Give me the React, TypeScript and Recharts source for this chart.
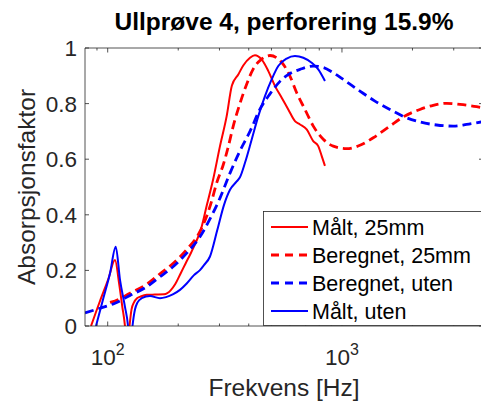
import { LineChart, Line, XAxis, YAxis, Legend } from "recharts";

// Målt, 25mm
const maalt25Hz = [84.9, 92.7, 100.7, 107.4, 112, 115.4, 118.5, 120.9, 123.9, 126.4, 129.5, 133.4, 138.3, 146.7, 159, 174, 186, 194, 205, 215, 226, 237.5, 249.5, 265, 282, 301.5, 322, 339, 361, 379, 405, 425, 454, 485, 518, 553, 590, 630, 662, 707, 754, 792, 819, 846];
const maalt25 = [0, 0.09, 0.17, 0.237, 0.15, 0.07, 0, -0.1, 0, 0.06, 0.085, 0.1, 0.106, 0.112, 0.113, 0.114, 0.129, 0.15, 0.19, 0.225, 0.261, 0.3, 0.345, 0.435, 0.528, 0.647, 0.755, 0.865, 0.905, 0.937, 0.965, 0.974, 0.959, 0.917, 0.863, 0.821, 0.779, 0.737, 0.725, 0.707, 0.665, 0.647, 0.612, 0.576];

// Beregnet, 25mm
const beregnet25Hz = [102.3, 107.4, 124.5, 146.7, 167.2, 190, 217.4, 247.7, 264.5, 277.9, 291.9, 311.4, 327.1, 343.7, 366.9, 391.9, 418.3, 454.3, 492.9, 526.4, 561.7, 599.8, 640.8, 695, 754.4, 832, 917.9, 1047, 1193, 1360, 1602, 1826, 2152, 2453, 2798, 3188, 3757, 4000];
const beregnet25 = [0.085, 0.09, 0.118, 0.15, 0.188, 0.225, 0.275, 0.34, 0.395, 0.45, 0.515, 0.58, 0.645, 0.72, 0.8, 0.87, 0.925, 0.96, 0.973, 0.965, 0.941, 0.899, 0.839, 0.779, 0.719, 0.672, 0.647, 0.638, 0.65, 0.677, 0.719, 0.752, 0.779, 0.794, 0.801, 0.797, 0.789, 0.785];

// Beregnet, uten
const beregnetUtenHz = [80, 92.7, 107.4, 124.5, 146.7, 167.2, 190, 217.4, 247.7, 273.3, 301.5, 332.7, 366.9, 404.9, 446.7, 492.9, 543.8, 599.8, 662, 754.4, 832, 917.9, 1012.7, 1193, 1383, 1602, 1889, 2152, 2536, 2985, 3406, 4000];
const beregnetUten = [0.047, 0.064, 0.082, 0.11, 0.141, 0.177, 0.213, 0.262, 0.321, 0.385, 0.46, 0.55, 0.63, 0.7, 0.78, 0.835, 0.88, 0.908, 0.923, 0.935, 0.93, 0.911, 0.887, 0.845, 0.809, 0.779, 0.749, 0.734, 0.723, 0.719, 0.725, 0.735];

// Målt, uten
const maaltUtenHz = [89.1, 95.8, 102.3, 108.2, 112.9, 118.5, 122.1, 124.5, 127.6, 130.8, 134.1, 139.7, 151.5, 167.2, 177.4, 190.5, 203.5, 217.4, 233.5, 247.7, 257.6, 273.3, 293.6, 313.5, 332.7, 355.3, 366.9, 385.5, 411.8, 439.4, 469.2, 501.1, 534.8, 580.8, 630.1, 683.8, 742.3, 792.3, 846.2];
const maaltUten = [0, 0.1, 0.19, 0.285, 0.165, 0.069, 0, -0.1, 0, 0.06, 0.085, 0.1, 0.108, 0.1, 0.104, 0.115, 0.13, 0.153, 0.183, 0.201, 0.219, 0.25, 0.345, 0.435, 0.49, 0.52, 0.535, 0.587, 0.671, 0.755, 0.827, 0.887, 0.935, 0.962, 0.971, 0.965, 0.947, 0.923, 0.881];

const xTicks = [90, 100, 200, 300, 400, 500, 600, 700, 800, 900, 1000, 2000, 3000];
const yTicks = [0, 0.2, 0.4, 0.6, 0.8, 1];

const toPoints = (hz: number[], vals: number[]) => hz.map((f, i) => ({ f, v: vals[i] }));

const series = [
  { name: "Målt, 25mm", data: toPoints(maalt25Hz, maalt25), color: "#ff0000", dashed: false },
  { name: "Beregnet, 25mm", data: toPoints(beregnet25Hz, beregnet25), color: "#ff0000", dashed: true },
  { name: "Beregnet, uten", data: toPoints(beregnetUtenHz, beregnetUten), color: "#0000ff", dashed: true },
  { name: "Målt, uten", data: toPoints(maaltUtenHz, maaltUten), color: "#0000ff", dashed: false },
];

const ink = "#262626";
const font = "'Liberation Sans', Arial, Helvetica, sans-serif";
const isMajor = (v: number) => v === 100 || v === 1000;

const BottomTick = (p: any) => {
  const v = p.payload.value;
  return (
    <g>
      <line x1={p.x} x2={p.x} y1={p.y} y2={p.y - (isMajor(v) ? 4.5 : 2.5)} stroke={ink} strokeWidth={0.8} />
      {isMajor(v) && (
        <text x={p.x} y={p.y + 39} textAnchor="middle" fontSize={22.5} fontFamily={font} fill={ink}>
          10<tspan dy={-10} fontSize={16}>{Math.round(Math.log10(v))}</tspan>
        </text>
      )}
    </g>
  );
};

const TopTick = (p: any) => {
  const v = p.payload.value;
  return <line x1={p.x} x2={p.x} y1={p.y} y2={p.y + (isMajor(v) ? 4.5 : 2.5)} stroke={ink} strokeWidth={0.8} />;
};

const LeftTick = (p: any) => (
  <g>
    <line x1={p.x} x2={p.x + 4} y1={p.y} y2={p.y} stroke={ink} strokeWidth={0.8} />
    <text x={p.x - 8} y={p.y + 8} textAnchor="end" fontSize={22.5} fontFamily={font} fill={ink}>
      {String(p.payload.value)}
    </text>
  </g>
);

const RightTick = (p: any) => <line x1={p.x} x2={p.x - 4} y1={p.y} y2={p.y} stroke={ink} strokeWidth={0.8} />;

const LegendBox = () => (
  <svg width={220} height={116} style={{ display: "block" }}>
    <rect x={0.5} y={0.5} width={230} height={114} fill="#fff" stroke={ink} strokeWidth={0.8} />
    {series.map((s, i) => {
      const cy = 16 + i * 28;
      return (
        <g key={s.name}>
          <line x1={8} x2={45} y1={cy} y2={cy} stroke={s.color} strokeWidth={s.dashed ? 2.8 : 2} strokeDasharray={s.dashed ? "8 6" : undefined} />
          <text x={49} y={cy + 8} fontSize={21.5} fontFamily={font} fill="#000">
            {s.name}
          </text>
        </g>
      );
    })}
  </svg>
);

export default function App() {
  return (
    <div style={{ position: "absolute", left: 0, top: 0, width: 481, height: 401, overflow: "hidden", background: "#fff" }}>
      <LineChart width={493} height={401} margin={{ top: 38, right: 0, bottom: 45, left: 35 }}>
        <XAxis
          xAxisId={0}
          dataKey="f"
          type="number"
          scale="log"
          domain={[80, 4000]}
          allowDataOverflow
          ticks={xTicks}
          interval={0}
          height={30}
          tickSize={0}
          tickMargin={0}
          tick={BottomTick}
          axisLine={{ stroke: ink, strokeWidth: 0.8 }}
          label={{
            content: (p: any) => (
              <text x={p.viewBox.x + p.viewBox.width / 2} y={p.viewBox.y + 70} textAnchor="middle" fontSize={24.5} fontFamily={font} fill={ink}>
                Frekvens [Hz]
              </text>
            ),
          }}
        />
        <XAxis
          xAxisId="top"
          orientation="top"
          dataKey="f"
          type="number"
          scale="log"
          domain={[80, 4000]}
          allowDataOverflow
          ticks={xTicks}
          interval={0}
          height={10}
          tickSize={0}
          tickMargin={0}
          tick={TopTick}
          axisLine={{ stroke: ink, strokeWidth: 0.8 }}
          label={{
            content: (p: any) => (
              <text x={p.viewBox.x + p.viewBox.width / 2} y={p.viewBox.y + p.viewBox.height - 18} textAnchor="middle" fontSize={24.5} fontWeight="bold" fontFamily={font} fill="#000">
                Ullprøve 4, perforering 15.9%
              </text>
            ),
          }}
        />
        <YAxis
          yAxisId={0}
          type="number"
          domain={[0, 1]}
          allowDataOverflow
          ticks={yTicks}
          interval={0}
          width={50}
          tickSize={0}
          tickMargin={0}
          tick={LeftTick}
          axisLine={{ stroke: ink, strokeWidth: 0.8 }}
          label={{
            content: (p: any) => {
              const x = p.viewBox.x + p.viewBox.width - 50;
              const y = p.viewBox.y + p.viewBox.height / 2;
              return (
                <text x={x} y={y} transform={`rotate(-90 ${x} ${y})`} textAnchor="middle" fontSize={24.5} fontFamily={font} fill={ink}>
                  Absorpsjonsfaktor
                </text>
              );
            },
          }}
        />
        <YAxis
          yAxisId="right"
          orientation="right"
          type="number"
          domain={[0, 1]}
          allowDataOverflow
          ticks={yTicks}
          interval={0}
          width={10}
          tickSize={0}
          tickMargin={0}
          tick={RightTick}
          axisLine={{ stroke: ink, strokeWidth: 0.8 }}
        />
        {series.map((s) => (
          <Line
            key={s.name}
            data={s.data}
            dataKey="v"
            name={s.name}
            type="monotone"
            stroke={s.color}
            strokeWidth={s.dashed ? 2.8 : 2}
            strokeDasharray={s.dashed ? "9 5" : undefined}
            dot={false}
            activeDot={false}
            isAnimationActive={false}
          />
        ))}
        <Legend
          layout="vertical"
          align="center"
          verticalAlign="middle"
          content={() => <LegendBox />}
          wrapperStyle={{ left: 263, top: 211, width: 220, height: 116 }}
        />
      </LineChart>
    </div>
  );
}
